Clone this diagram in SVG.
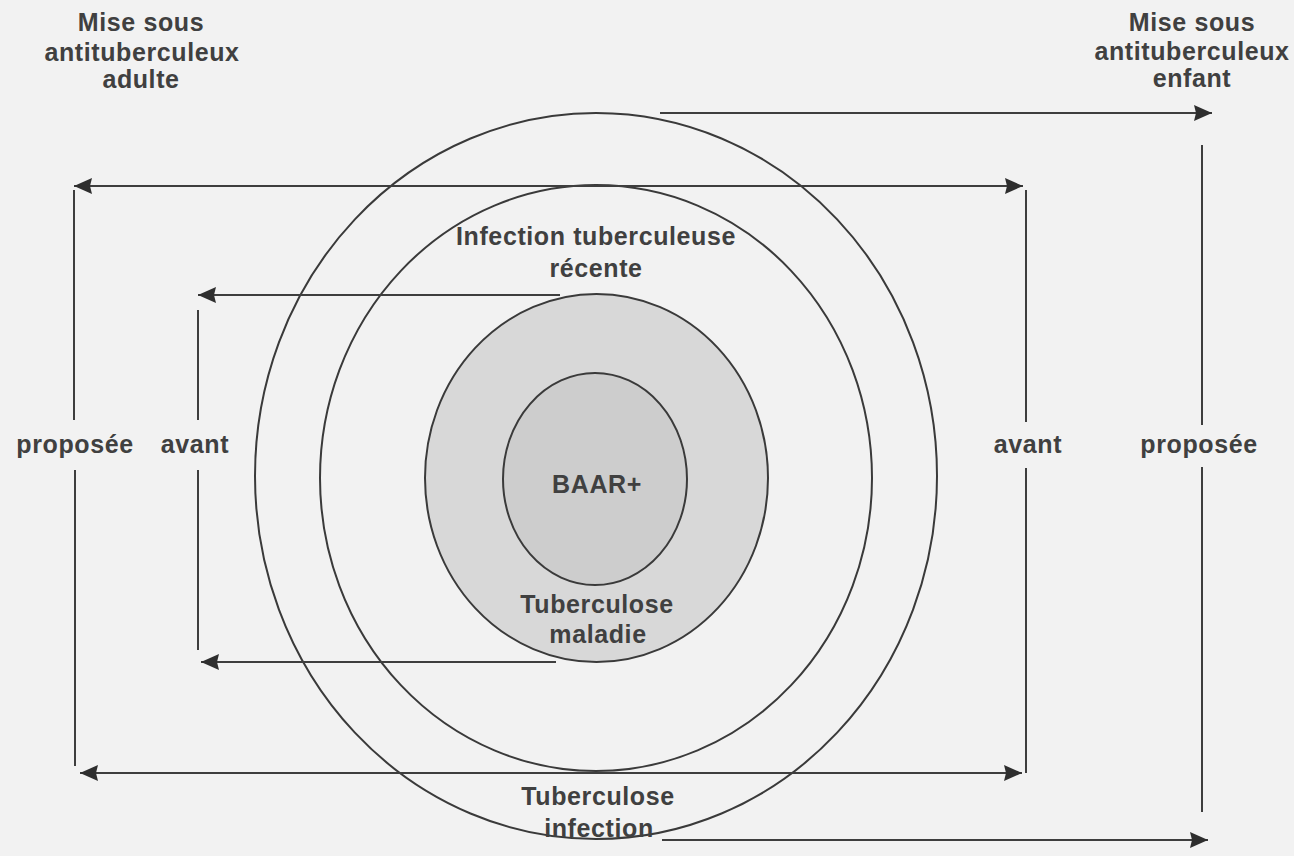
<svg xmlns="http://www.w3.org/2000/svg" width="1294" height="856" viewBox="0 0 1294 856">
<style>
.ln{fill:none;stroke:#3e3e3e;stroke-width:2}
.ring{stroke:#3a3a3a;stroke-width:2}
.t{font-family:"Liberation Sans",Arial,sans-serif;font-weight:bold;font-size:25px;letter-spacing:0.6px;fill:#404040;text-anchor:middle}
</style>
<defs>
<marker id="ah" markerUnits="userSpaceOnUse" markerWidth="20" markerHeight="18" refX="18" refY="8" orient="auto-start-reverse">
<path d="M0,0 L18,8 L0,16 L2,8 Z" fill="#2e2e2e"/>
</marker>
</defs>
<rect x="0" y="0" width="1294" height="856" fill="#f2f2f2"/>
<g id="ring-infection">
<ellipse cx="596" cy="476" rx="341" ry="363" fill="none" class="ring"/>
</g>
<g id="ring-recente">
<ellipse cx="596" cy="478" rx="276" ry="293" fill="none" class="ring"/>
</g>
<g id="ring-maladie">
<ellipse cx="596.5" cy="478" rx="171.5" ry="184" fill="#d8d8d8" class="ring"/>
</g>
<g id="ring-baar">
<ellipse cx="595" cy="479" rx="92" ry="106" fill="#cdcdcd" class="ring"/>
</g>
<g id="connectors">
<path class="ln" d="M660,113 H1212" marker-end="url(#ah)"/>
<path class="ln" d="M1202,145 V425 M1202,467 V812"/>
<path class="ln" d="M662,840 H1208" marker-end="url(#ah)"/>
<path class="ln" d="M74,186 H1023" marker-start="url(#ah)" marker-end="url(#ah)"/>
<path class="ln" d="M80,773 H1022" marker-start="url(#ah)" marker-end="url(#ah)"/>
<path class="ln" d="M74,190 V420 M75,470 V766"/>
<path class="ln" d="M1026,190 V422 M1026,468 V773"/>
<path class="ln" d="M560,295 H198" marker-end="url(#ah)"/>
<path class="ln" d="M556,662 H201" marker-end="url(#ah)"/>
<path class="ln" d="M198,310 V420 M198,470 V650"/>
</g>
<g id="labels">
<text class="t" x="141" y="31">Mise sous</text>
<text class="t" x="142" y="61">antituberculeux</text>
<text class="t" x="141" y="88">adulte</text>
<text class="t" x="1192" y="31">Mise sous</text>
<text class="t" x="1192" y="60">antituberculeux</text>
<text class="t" x="1192" y="87">enfant</text>
<text class="t" x="596" y="245">Infection tuberculeuse</text>
<text class="t" x="596" y="277">récente</text>
<text class="t" x="597" y="493">BAAR+</text>
<text class="t" x="597" y="613">Tuberculose</text>
<text class="t" x="598" y="643">maladie</text>
<text class="t" x="598" y="805">Tuberculose</text>
<text class="t" x="599" y="837">infection</text>
<text class="t" x="75" y="453">proposée</text>
<text class="t" x="195" y="453">avant</text>
<text class="t" x="1028" y="453">avant</text>
<text class="t" x="1199" y="453">proposée</text>
</g>
</svg>
